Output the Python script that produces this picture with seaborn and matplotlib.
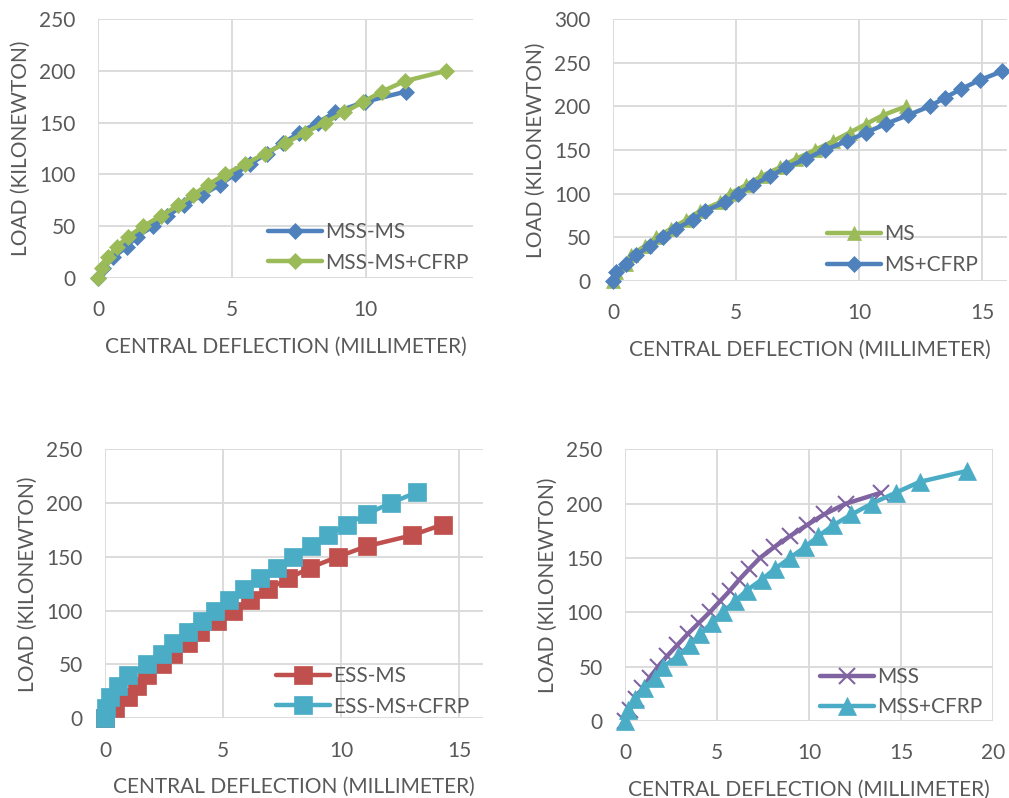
import matplotlib
matplotlib.use("Agg")
import matplotlib.pyplot as plt
import seaborn as sns

# panel 1 - MSS-MS vs MSS-MS+CFRP
load_mss_ms = [0, 10, 20, 30, 40, 50, 60, 70, 80, 90, 100, 110, 120, 130, 140, 150, 160, 170, 180]
defl_mss_ms = [0, 0.2, 0.57, 1.07, 1.44, 2.07, 2.57, 3.2, 3.88, 4.55, 5.1, 5.67, 6.3, 6.9, 7.5, 8.2, 8.85, 9.96, 11.5]
load_mss_ms_cfrp = [0, 10, 20, 30, 40, 50, 60, 70, 80, 90, 100, 110, 120, 130, 140, 150, 160, 170, 180, 190, 200]
defl_mss_ms_cfrp = [0, 0.14, 0.38, 0.7, 1.13, 1.69, 2.35, 2.99, 3.53, 4.1, 4.74, 5.49, 6.23, 6.98, 7.72, 8.47,
                    9.2, 9.9, 10.6, 11.45, 13.0]

# panel 2 - MS vs MS+CFRP
load_ms = [0, 10, 20, 30, 40, 50, 60, 70, 80, 90, 100, 110, 120, 130, 140, 150, 160, 170, 180, 190, 200]
defl_ms = [0, 0.14, 0.54, 0.75, 1.29, 1.76, 2.37, 2.98, 3.52, 4.34, 4.74, 5.42, 6.03, 6.78, 7.45, 8.2,
           8.94, 9.62, 10.3, 10.98, 11.92]
load_ms_cfrp = [0, 10, 20, 30, 40, 50, 60, 70, 80, 90, 100, 110, 120, 130, 140, 150, 160, 170, 180, 190, 200,
                210, 220, 230, 240]
defl_ms_cfrp = [0, 0.14, 0.54, 0.95, 1.5, 2.03, 2.57, 3.25, 3.73, 4.54, 5.08, 5.7, 6.37, 7.05, 7.86, 8.6,
                9.5, 10.3, 11.1, 12.0, 12.87, 13.5, 14.16, 14.9, 15.8]

# panel 3 - ESS-MS vs ESS-MS+CFRP
load_ess_ms = [0, 10, 20, 30, 40, 50, 60, 70, 80, 90, 100, 110, 120, 130, 140, 150, 160, 170, 180]
defl_ess_ms = [0, 0.42, 0.96, 1.34, 1.77, 2.4, 2.9, 3.5, 4.03, 4.73, 5.44, 6.14, 6.92, 7.77, 8.7, 9.85,
               11.1, 13.0, 14.3]
load_ess_ms_cfrp = [0, 10, 20, 30, 40, 50, 60, 70, 80, 90, 100, 110, 120, 130, 140, 150, 160, 170, 180, 190,
                    200, 210]
defl_ess_ms_cfrp = [0, 0.04, 0.21, 0.56, 0.99, 1.77, 2.4, 2.87, 3.5, 4.1, 4.66, 5.25, 5.9, 6.57, 7.27, 7.98,
                    8.71, 9.46, 10.24, 11.1, 12.1, 13.2]

# panel 4 - MSS vs MSS+CFRP
load_mss = [0, 10, 20, 30, 40, 50, 60, 70, 80, 90, 100, 110, 120, 130, 140, 150, 160, 170, 180, 190, 200, 210]
defl_mss = [0, 0.25, 0.6, 0.95, 1.35, 1.8, 2.3, 2.85, 3.4, 4.0, 4.6, 5.15, 5.7, 6.2, 6.75, 7.33, 8.1, 8.95,
            9.86, 10.8, 12.0, 13.9]
load_mss_cfrp = [0, 10, 20, 30, 40, 50, 60, 70, 80, 90, 100, 110, 120, 130, 140, 150, 160, 170, 180, 190, 200,
                 210, 220, 230]
defl_mss_cfrp = [0, 0.18, 0.54, 1.03, 1.63, 2.08, 2.9, 3.53, 4.07, 4.7, 5.3, 5.97, 6.6, 7.42, 8.14, 8.96,
                 9.77, 10.5, 11.3, 12.3, 13.4, 14.7, 16.0, 18.55]

BLUE, GREEN, RED, PURPLE, CYAN = "#4F81BD", "#9BBB59", "#C0504D", "#8064A2", "#4BACC6"
TXT = "#595959"

sns.set_theme(style="whitegrid")
plt.rcParams["font.family"] = ["Lato", "DejaVu Sans"]
plt.rcParams["text.color"] = TXT
plt.rcParams["axes.labelcolor"] = TXT
plt.rcParams["xtick.color"] = TXT
plt.rcParams["ytick.color"] = TXT

FS = 15
fig = plt.figure(figsize=(10.09, 7.98), dpi=100)

panels = [
    # rect, xlim, ylim, ystep, series, legend anchor
    ([0.0971, 0.6516, 0.3717, 0.3246], 14, 250, 50,
     [("MSS-MS", defl_mss_ms, load_mss_ms, BLUE, "D", 8.5),
      ("MSS-MS+CFRP", defl_mss_ms_cfrp, load_mss_ms_cfrp, GREEN, "D", 8.5)],
     (0.453, 0.215)),
    ([0.6075, 0.6479, 0.3902, 0.3283], 16, 300, 50,
     [("MS", defl_ms, load_ms, GREEN, "^", 10),
      ("MS+CFRP", defl_ms_cfrp, load_ms_cfrp, BLUE, "D", 8)],
     (0.543, 0.216)),
    ([0.1041, 0.0999, 0.3743, 0.3371], 16, 250, 50,
     [("ESS-MS", defl_ess_ms, load_ess_ms, RED, "s", 13),
      ("ESS-MS+CFRP", defl_ess_ms_cfrp, load_ess_ms_cfrp, CYAN, "s", 13)],
     (0.452, 0.194)),
    ([0.6194, 0.0965, 0.3650, 0.3405], 20, 250, 50,
     [("MSS", defl_mss, load_mss, PURPLE, "x", 12),
      ("MSS+CFRP", defl_mss_cfrp, load_mss_cfrp, CYAN, "^", 13)],
     (0.53, 0.199)),
]

for rect, xmax, ymax, ystep, series, anchor in panels:
    ax = fig.add_axes(rect)
    for name, xs, ys, col, mk, ms in series:
        sns.lineplot(x=xs, y=ys, ax=ax, sort=False, color=col, marker=mk, markersize=ms,
                     markeredgecolor=col, markerfacecolor=col,
                     markeredgewidth=1.5 if mk == "x" else 0.5,
                     linewidth=3.2, label=name, clip_on=False)
    ax.set_xlim(0, xmax)
    ax.set_ylim(0, ymax)
    ax.set_xticks(range(0, xmax + 1, 5))
    ax.set_yticks(range(0, ymax + 1, ystep))
    for s in ax.spines.values():
        s.set_visible(False)
    ax.grid(True, color="#D9D9D9", linewidth=1.3)
    ax.set_axisbelow(True)
    ax.tick_params(length=0, labelsize=FS, pad=16)
    ax.set_xlabel("CENTRAL DEFLECTION (MILLIMETER)", fontsize=FS, labelpad=12)
    ax.set_ylabel("LOAD (KILONEWTON)", fontsize=FS, labelpad=6)
    ax.legend(loc="upper left", bbox_to_anchor=anchor, frameon=False, fontsize=FS,
              handlelength=2.6, handletextpad=0.15, labelspacing=0.5, borderpad=0,
              borderaxespad=0)

fig.savefig("out.png", dpi=100)
